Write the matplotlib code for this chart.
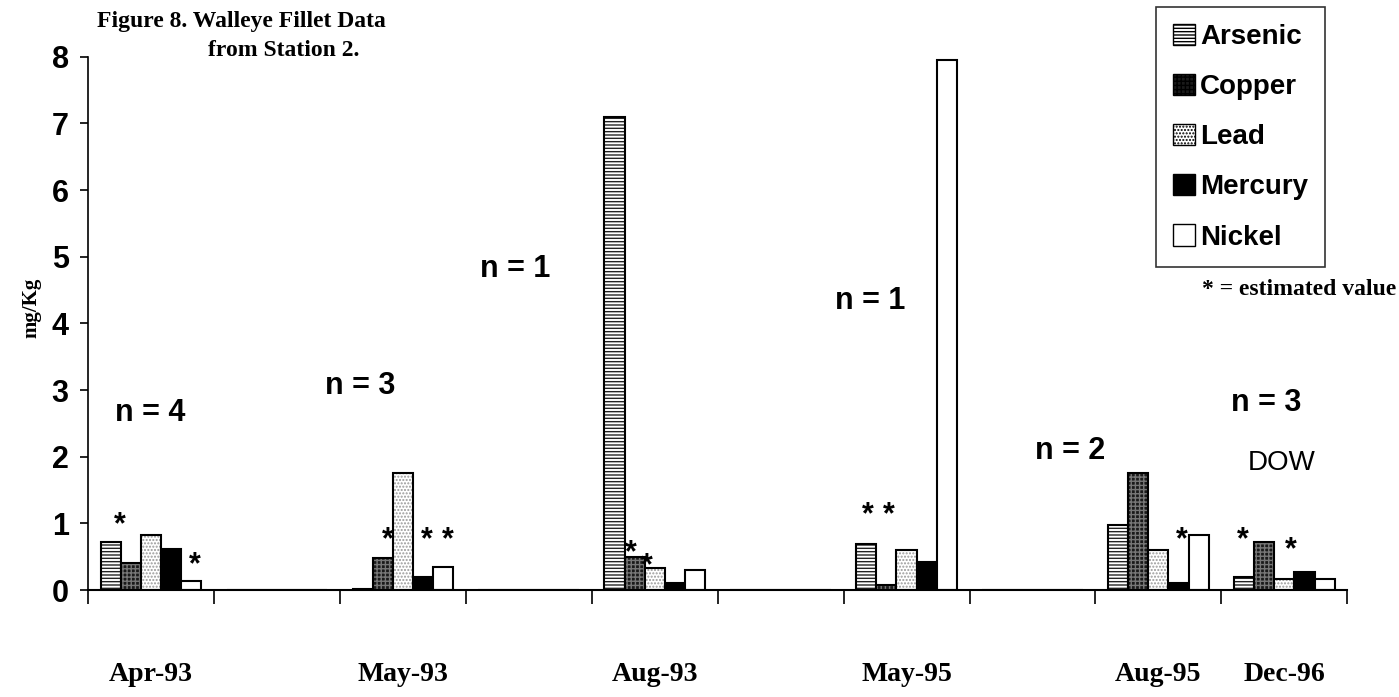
import numpy as np
import matplotlib
matplotlib.use('Agg')
from matplotlib import pyplot as plt
from matplotlib.patches import Patch

# category slots (blank slots are the gaps between sampling dates)
dates = ['Apr-93', '', 'May-93', '', 'Aug-93', '', 'May-95', '', 'Aug-95', 'Dec-96']
metals = ['Arsenic', 'Copper', 'Lead', 'Mercury', 'Nickel']

arsenic = [0.72, 0, 0.02, 0, 7.1, 0, 0.69, 0, 0.97, 0.19]
copper = [0.41, 0, 0.48, 0, 0.5, 0, 0.07, 0, 1.75, 0.72]
lead = [0.82, 0, 1.75, 0, 0.33, 0, 0.6, 0, 0.6, 0.17]
mercury = [0.62, 0, 0.2, 0, 0.1, 0, 0.42, 0, 0.11, 0.27]
nickel = [0.14, 0, 0.35, 0, 0.3, 0, 7.95, 0, 0.82, 0.17]

# sample sizes written over each group
n_labels = ['n = 4', 'n = 3', 'n = 1', 'n = 1', 'n = 2', 'n = 3']
n_x = [-0.01, 1.66, 2.89, 5.71, 7.3, 8.86]
n_y = [2.66, 3.06, 4.81, 4.33, 2.09, 2.81]

# estimated-value markers
star_x = [-0.25, 0.35, 1.88, 2.19, 2.36, 3.81, 3.94, 5.69, 5.86, 8.19, 8.67, 9.05]
star_y = [0.97, 0.37, 0.74, 0.74, 0.74, 0.55, 0.36, 1.12, 1.12, 0.75, 0.75, 0.6]

styles = [
    dict(facecolor='white', hatch='-----', hcol='#222222'),
    dict(facecolor='#1a1a1a', hatch='++++', hcol='#777777'),
    dict(facecolor='white', hatch='.....', hcol='#999999'),
    dict(facecolor='black', hatch='', hcol='black'),
    dict(facecolor='white', hatch='', hcol='white'),
]

sans = ['Liberation Sans', 'DejaVu Sans']
serif = ['Liberation Serif', 'DejaVu Serif']

fig = plt.figure(figsize=(13.99, 6.97), dpi=100)
ax = fig.add_axes([0.063, 0.1535, 0.9, 0.765])

x = np.arange(len(dates))
width = 0.16
series = [arsenic, copper, lead, mercury, nickel]
for i, (vals, st) in enumerate(zip(series, styles)):
    pos = x + (i - 2) * width
    ax.bar(pos, vals, width, color=st['facecolor'], hatch=st['hatch'],
           edgecolor=st['hcol'], linewidth=0)
    ax.bar(pos, vals, width, facecolor='none', edgecolor='black', linewidth=1.5)

ax.set_xlim(-0.5, len(dates) - 0.5)
ax.set_ylim(0, 8)
ax.set_yticks(range(0, 9))
ax.tick_params(axis='y', direction='out', length=6, width=1.2, pad=8)
for lab in ax.get_yticklabels():
    lab.set_family(sans)
    lab.set_fontweight('bold')
    lab.set_fontsize(22)

ax.set_xticks(np.arange(-0.5, len(dates)), labels=[''] * (len(dates) + 1))
ax.tick_params(axis='x', which='major', direction='out', length=10, width=1.2)
ax.set_xticks(x, labels=dates, minor=True)
ax.tick_params(axis='x', which='minor', length=0, pad=52)
for lab in ax.get_xticklabels(minor=True):
    lab.set_family(serif)
    lab.set_fontweight('bold')
    lab.set_fontsize(20)

for s in ['top', 'right']:
    ax.spines[s].set_visible(False)
ax.spines['left'].set_linewidth(1.2)
ax.spines['bottom'].set_linewidth(1.5)

ax.set_ylabel('mg/Kg', family=serif, fontweight='bold', fontsize=15)
ax.yaxis.set_label_coords(-0.037, 0.53)

for t, xx, yy in zip(n_labels, n_x, n_y):
    ax.text(xx, yy, t, family=sans, fontweight='bold', fontsize=22,
            ha='center', va='center')
ax.text(8.98, 1.91, 'DOW', family=sans, fontsize=20, ha='center', va='center')

for xx, yy in zip(star_x, star_y):
    ax.text(xx, yy, '*', family=sans, fontweight='bold', fontsize=22,
            ha='center', va='center')

fig.text(97 / 1399, 1 - 22 / 697, 'Figure 8. Walleye Fillet Data', family=serif,
         fontweight='bold', fontsize=17, ha='left', va='center')
fig.text(208 / 1399, 1 - 50 / 697, 'from Station 2.', family=serif,
         fontweight='bold', fontsize=17, ha='left', va='center')

handles = [Patch(facecolor=st['facecolor'], hatch=st['hatch'], edgecolor='black')
           for st in styles]
leg = fig.legend(handles, metals, loc='upper right',
                 bbox_to_anchor=(1325 / 1399, 1 - 7 / 697), borderaxespad=0,
                 prop={'family': sans, 'weight': 'bold', 'size': 20},
                 frameon=True, fancybox=False, handlelength=0.8, handleheight=0.8,
                 handletextpad=0.2, labelspacing=0.86, borderpad=0.6)
leg.get_frame().set_edgecolor('black')
leg.get_frame().set_linewidth(1.2)

fig.text(0.998, 1 - 290 / 697, '* = estimated value', family=serif,
         fontweight='bold', fontsize=17, ha='right', va='center')

fig.savefig('out.png', dpi=100)
